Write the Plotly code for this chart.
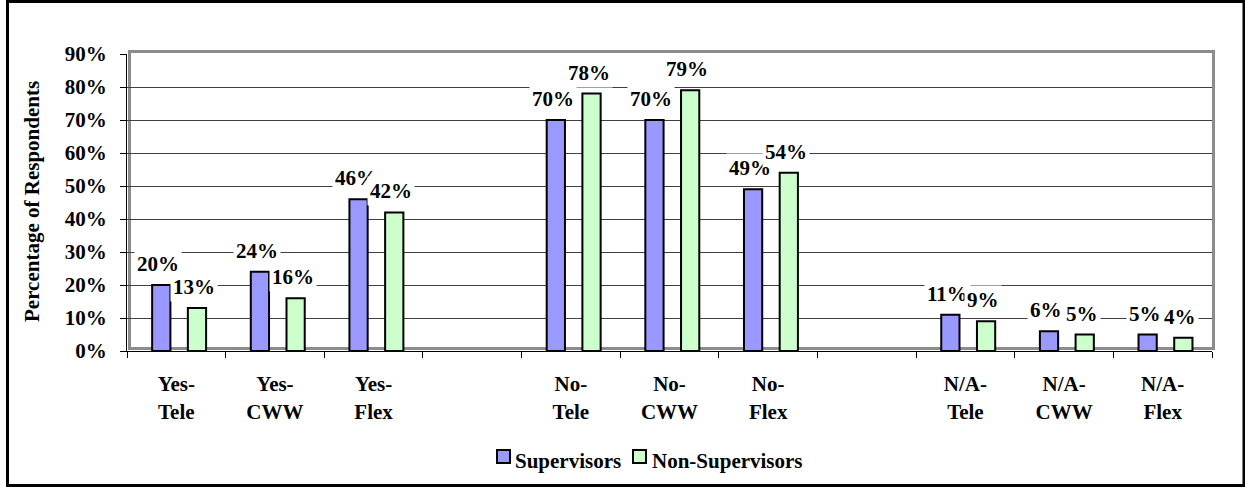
import plotly.graph_objects as go

# ---- data -------------------------------------------------------------
categories = ["Yes-<br>Tele", "Yes-<br>CWW", "Yes-<br>Flex", " ",
              "No-<br>Tele", "No-<br>CWW", "No-<br>Flex", "  ",
              "N/A-<br>Tele", "N/A-<br>CWW", "N/A-<br>Flex"]
supervisors = [20, 24, 46, None, 70, 70, 49, None, 11, 6, 5]
non_supervisors = [13, 16, 42, None, 78, 79, 54, None, 9, 5, 4]
series_names = ["Supervisors", "Non-Supervisors"]
y_ticks = [0, 10, 20, 30, 40, 50, 60, 70, 80, 90]
y_tick_labels = ["0%", "10%", "20%", "30%", "40%", "50%", "60%", "70%", "80%", "90%"]
y_title = "Percentage of Respondents"

# ---- styling / geometry -------------------------------------------------
FONT = "Liberation Serif"
FS = 21
SUP_COLOR = "#9999FF"
NON_COLOR = "#CCFFCC"
W_FIG, H_FIG = 1245, 487
L, R, T, B = 127, 1212, 54, 351          # plot area in pixels
PW, PH = R - L, B - T


def fx(px):
    """pixel x -> paper x"""
    return (px - L) / PW


def fy(py):
    """pixel y (from top) -> paper y"""
    return (B - py) / PH


def bold_font():
    return dict(family=FONT, size=FS, color="black", weight="bold")


fig = go.Figure()

bar_w = 0.185
offsets = [-0.245, 0.117]
for name, vals, color, off in zip(series_names, [supervisors, non_supervisors],
                                  [SUP_COLOR, NON_COLOR], offsets):
    fig.add_trace(go.Bar(
        x=categories, y=vals, name=name,
        marker=dict(color=color, line=dict(color="black", width=2)),
        width=bar_w, offset=off, showlegend=False, hoverinfo="skip",
    ))

# value labels with white boxes that mask the gridlines
annotations = []
cat_px = PW / len(categories)
for vals, off in zip([supervisors, non_supervisors], offsets):
    center_shift = (off + bar_w / 2) * cat_px - 3
    for c, v in zip(categories, vals):
        if v is None:
            continue
        annotations.append(dict(
            x=c, y=v, xref="x", yref="y", text=f"{v}%", showarrow=False,
            xshift=center_shift, yshift=21, yanchor="middle",
            bgcolor="white", borderpad=2, font=bold_font(),
        ))

# y-axis title
annotations.append(dict(
    x=fx(32), y=fy(202), xref="paper", yref="paper", text=y_title,
    textangle=-90, showarrow=False, xanchor="center", yanchor="middle",
    font=bold_font(),
))

# legend entries
legend_items = [(series_names[0], SUP_COLOR, 497, 513),
                (series_names[1], NON_COLOR, 633, 650)]
shapes = []
for name, color, sq_x, tx in legend_items:
    shapes.append(dict(type="rect", xref="paper", yref="paper",
                       x0=fx(sq_x), x1=fx(sq_x + 13), y0=fy(463), y1=fy(450),
                       fillcolor=color, line=dict(color="black", width=2)))
    annotations.append(dict(
        x=fx(tx), y=fy(461), xref="paper", yref="paper", text=name,
        showarrow=False, xanchor="left", yanchor="middle", font=bold_font(),
    ))

# chart wall (offset frame behind the bars)
shapes.append(dict(type="rect", xref="paper", yref="paper", layer="below",
                   x0=fx(129.5), x1=fx(1213.5), y0=fy(348.5), y1=fy(51.5),
                   line=dict(color="#8c8c8c", width=3)))
# outer chart border
shapes.append(dict(type="rect", xref="paper", yref="paper",
                   x0=fx(7.5), x1=fx(1244), y0=fy(485.5), y1=fy(1.5),
                   line=dict(color="black", width=3)))

fig.update_layout(
    width=W_FIG, height=H_FIG,
    margin=dict(l=L, r=W_FIG - R, t=T, b=H_FIG - B, autoexpand=False),
    paper_bgcolor="white", plot_bgcolor="white",
    barmode="group",
    font=dict(family=FONT, size=FS, color="black"),
    annotations=annotations, shapes=shapes,
    xaxis=dict(
        type="category", showgrid=False, showline=True, linecolor="black",
        linewidth=1, ticks="outside", tickson="boundaries", ticklen=6,
        tickcolor="black", ticklabelstandoff=14, automargin=False,
        tickfont=bold_font(), fixedrange=True,
    ),
    yaxis=dict(
        range=[0, 90], tickmode="array", tickvals=y_ticks, ticktext=y_tick_labels,
        showgrid=True, gridcolor="#404040", gridwidth=1, zeroline=False,
        showline=True, linecolor="black", linewidth=1, ticks="outside",
        ticklen=6, tickcolor="black", ticklabelstandoff=9, automargin=False,
        tickfont=bold_font(), fixedrange=True,
    ),
)

fig.write_html("out.html")
